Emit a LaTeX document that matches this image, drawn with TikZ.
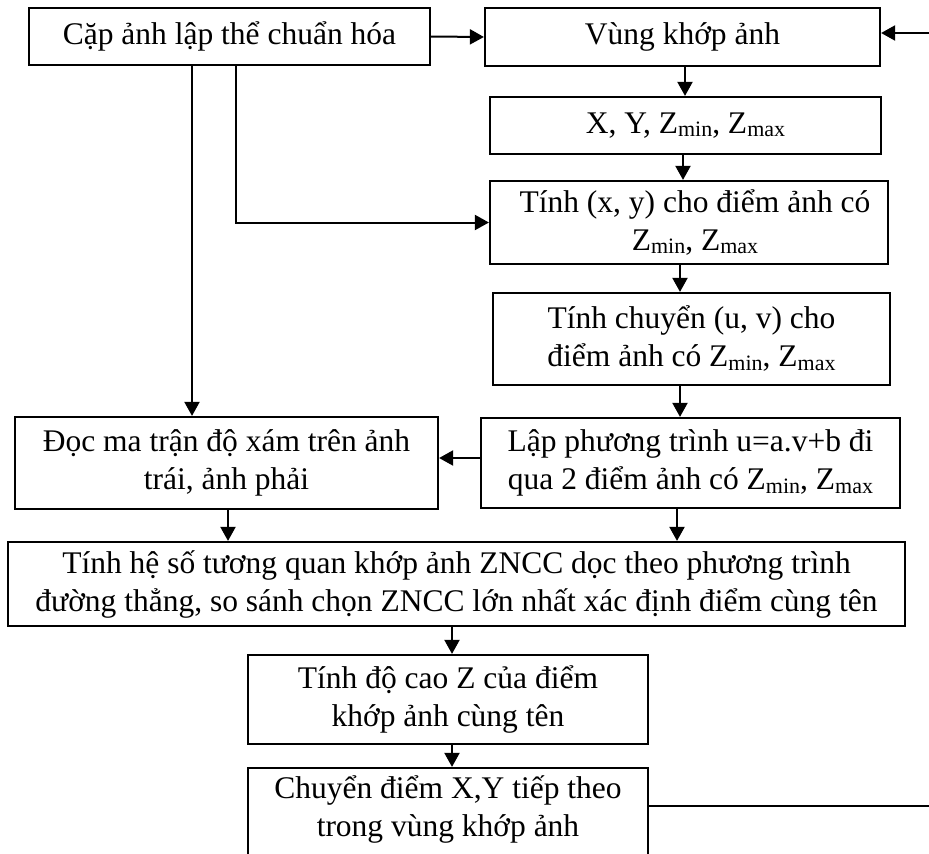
\documentclass[tikz,border=0pt]{standalone}
\usepackage{fontspec}
\setmainfont{Liberation Serif}
\usetikzlibrary{arrows.meta}
\newcommand{\zsub}[1]{\raisebox{-3.5pt}{\fontsize{22}{22}\selectfont #1}}
\newcommand{\zmn}{Z\zsub{min}}
\newcommand{\zmx}{Z\zsub{max}}
\begin{document}
\begin{tikzpicture}[x=1pt,y=-1pt,
  box/.style={draw, line width=2.2pt, inner sep=0pt, align=center,
    font=\fontsize{31.5}{38}\selectfont},
  arr/.style={line width=2pt, -{Triangle[length=14pt,width=15pt]}},
  ln/.style={line width=2pt}]
\useasboundingbox (0,0) rectangle (929,854);
\fill[white] (0,0) rectangle (929,854);
\clip (0,0) rectangle (929,854);

\node[box, minimum width=401, minimum height=57] (A) at (229.5,36.5) {Cặp ảnh lập thể chuẩn hóa};
\node[box, minimum width=395, minimum height=58] (B) at (682.5,37) {Vùng khớp ảnh};
\node[box, minimum width=391, minimum height=57] (B2) at (685.5,125.5) {X, Y, \zmn, \zmx};
\node[box, minimum width=398, minimum height=83] (C) at (689,222.5) {\hspace*{12pt}Tính (x, y) cho điểm ảnh có\\ \hspace*{12pt}\zmn, \zmx};
\node[box, minimum width=397, minimum height=92] (D) at (691.5,339) {Tính chuyển (u, v) cho\\ điểm ảnh có \zmn, \zmx};
\node[box, minimum width=419, minimum height=90] (E) at (690.5,463) {Lập phương trình u=a.v+b đi\\ qua 2 điểm ảnh có \zmn, \zmx};
\node[box, minimum width=423, minimum height=92] (F) at (226.5,463) {Đọc ma trận độ xám trên ảnh\\ trái, ảnh phải};
\node[box, minimum width=897, minimum height=84] (G) at (456.5,584) {Tính hệ số tương quan khớp ảnh ZNCC dọc theo phương trình\\ đường thẳng, so sánh chọn ZNCC lớn nhất xác định điểm cùng tên};
\node[box, minimum width=400, minimum height=89] (H) at (448,699.5) {Tính độ cao Z của điểm\\ khớp ảnh cùng tên};
\node[box, minimum width=400, minimum height=112] (I) at (448,824) {};
\node[font=\fontsize{31.5}{38}\selectfont, align=center, anchor=north, inner sep=0pt] (It) at (448,775) {Chuyển điểm X,Y tiếp theo\\ trong vùng khớp ảnh};

\coordinate (r1) at (929,806);
\coordinate (r2) at (929,33);

\draw[arr] (A.east) -- (B.west);
\draw[arr] (r2) -- (r2 -| B.east);
\draw[ln] (I.east |- r1) -- (r1);
\draw[arr] ([xshift=2.5pt]B.south) -- ([xshift=2.5pt]B.south |- B2.north);
\draw[arr] ([xshift=-2.5pt]B2.south) -- ([xshift=-2.5pt]B2.south |- C.north);
\draw[arr] ([xshift=6.5pt]A.south) |- (C.west);
\draw[arr] ([xshift=-37.5pt]A.south) -- ([xshift=-37.5pt]A.south |- F.north);
\draw[arr] ([xshift=-9pt]C.south) -- ([xshift=-9pt]C.south |- D.north);
\draw[arr] ([xshift=-11.5pt]D.south) -- ([xshift=-11.5pt]D.south |- E.north);
\draw[arr] ([yshift=5pt]E.west) -- ([yshift=5pt]E.west -| F.east);
\draw[arr] ([xshift=1.5pt]F.south) -- ([xshift=1.5pt]F.south |- G.north);
\draw[arr] ([xshift=-13.5pt]E.south) -- ([xshift=-13.5pt]E.south |- G.north);
\draw[arr] ([xshift=4pt]H.north |- G.south) -- ([xshift=4pt]H.north);
\draw[arr] ([xshift=4pt]H.south) -- ([xshift=4pt]I.north);
\end{tikzpicture}
\end{document}
